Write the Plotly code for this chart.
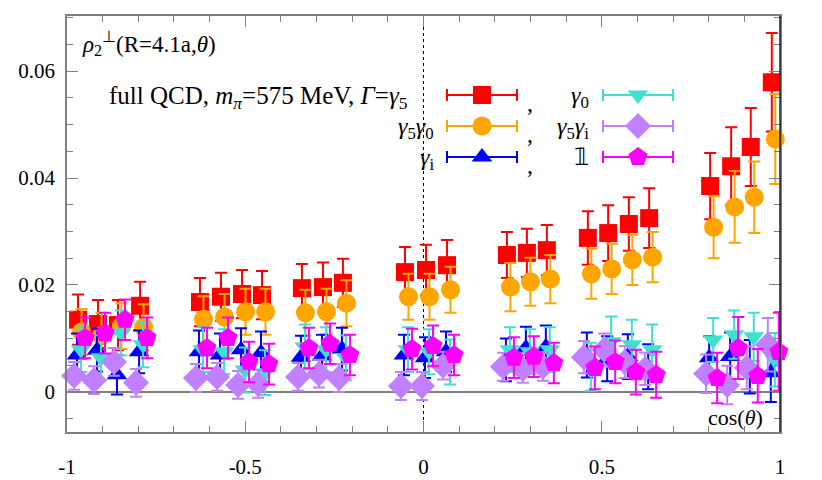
import plotly.graph_objects as go

# cos(theta) positions of the points (gamma_5 series), grouped in 7 clusters
cos_theta = [-0.969, -0.913, -0.857, -0.795,
             -0.627, -0.568, -0.509, -0.453,
             -0.341, -0.282, -0.226,
             -0.052, 0.007, 0.066,
             0.234, 0.290, 0.346,
             0.461, 0.518, 0.576, 0.633,
             0.804, 0.863, 0.918, 0.977]

g5 = [0.0135, 0.0127, 0.0125, 0.0161,
      0.0168, 0.0178, 0.0183, 0.0181,
      0.0194, 0.0196, 0.0204,
      0.0224, 0.0228, 0.0237,
      0.0256, 0.0260, 0.0265,
      0.0288, 0.0297, 0.0314, 0.0325,
      0.0385, 0.0422, 0.0458, 0.0579]
g5_err = [0.0047, 0.0045, 0.0047, 0.0045,
          0.0045, 0.0045, 0.0045, 0.0045,
          0.0045, 0.0046, 0.0045,
          0.0047, 0.0047, 0.0047,
          0.0043, 0.0045, 0.0047,
          0.0050, 0.0052, 0.0050, 0.0056,
          0.0062, 0.0073, 0.0073, 0.0092]

g5g0 = [0.0112, 0.0105, 0.0123, 0.0121,
        0.0136, 0.0140, 0.0150, 0.0150,
        0.0148, 0.0150, 0.0166,
        0.0178, 0.0178, 0.0191,
        0.0196, 0.0206, 0.0211,
        0.0221, 0.0230, 0.0247, 0.0252,
        0.0308, 0.0346, 0.0364, 0.0473]
g5g0_err = [0.0043, 0.0043, 0.0043, 0.0043,
            0.0043, 0.0043, 0.0043, 0.0043,
            0.0043, 0.0043, 0.0043,
            0.0043, 0.0043, 0.0043,
            0.0045, 0.0045, 0.0045,
            0.0047, 0.0047, 0.0047, 0.0047,
            0.0058, 0.0067, 0.0067, 0.0084]

gi = [0.0069, 0.0078, 0.0032, 0.0075,
      0.0075, 0.0069, 0.0079, 0.0073,
      0.0065, 0.0067, 0.0080,
      0.0069, 0.0064, 0.0075,
      0.0060, 0.0082, 0.0084,
      0.0069, 0.0062, 0.0066, 0.0047,
      0.0064, 0.0066, 0.0047, 0.0036]
gi_err = [0.0040, 0.0040, 0.0037, 0.0040,
          0.0040, 0.0040, 0.0040, 0.0040,
          0.0040, 0.0040, 0.0040,
          0.0038, 0.0038, 0.0038,
          0.0040, 0.0040, 0.0040,
          0.0042, 0.0042, 0.0042, 0.0042,
          0.0040, 0.0045, 0.0050, 0.0055]

g0 = [0.0079, 0.0064, 0.0110, 0.0088,
      0.0079, 0.0075, 0.0041, 0.0036,
      0.0084, 0.0079, 0.0064,
      0.0079, 0.0075, 0.0056,
      0.0079, 0.0075, 0.0079,
      0.0047, 0.0094, 0.0088, 0.0079,
      0.0097, 0.0107, 0.0103, 0.0060]
g0_err = [0.0042, 0.0042, 0.0042, 0.0042,
          0.0042, 0.0042, 0.0042, 0.0042,
          0.0042, 0.0042, 0.0042,
          0.0042, 0.0042, 0.0042,
          0.0042, 0.0042, 0.0042,
          0.0045, 0.0047, 0.0047, 0.0047,
          0.0041, 0.0045, 0.0045, 0.0050]

g5gi = [0.0030, 0.0022, 0.0056, 0.0017,
        0.0026, 0.0028, 0.0013, 0.0015,
        0.0028, 0.0034, 0.0026,
        0.0011, 0.0011, 0.0049,
        0.0047, 0.0043, 0.0047,
        0.0065, 0.0079, 0.0056, 0.0043,
        0.0034, 0.0013, 0.0045, 0.0088]
g5gi_err = [0.0026, 0.0026, 0.0026, 0.0026,
            0.0026, 0.0026, 0.0026, 0.0026,
            0.0026, 0.0026, 0.0026,
            0.0026, 0.0026, 0.0026,
            0.0026, 0.0026, 0.0026,
            0.0030, 0.0030, 0.0030, 0.0030,
            0.0036, 0.0036, 0.0040, 0.0050]

one = [0.0101, 0.0110, 0.0135, 0.0101,
       0.0082, 0.0101, 0.0056, 0.0052,
       0.0082, 0.0090, 0.0069,
       0.0080, 0.0086, 0.0069,
       0.0064, 0.0066, 0.0054,
       0.0045, 0.0056, 0.0037, 0.0032,
       0.0026, 0.0082, 0.0030, 0.0075]
one_err = [0.0038, 0.0038, 0.0038, 0.0038,
           0.0038, 0.0038, 0.0038, 0.0038,
           0.0038, 0.0038, 0.0038,
           0.0038, 0.0038, 0.0038,
           0.0038, 0.0038, 0.0038,
           0.0040, 0.0040, 0.0042, 0.0043,
           0.0047, 0.0058, 0.0050, 0.0073]

FONT = "Liberation Serif"
GREY = "#808080"

# plot-area pixel geometry as seen on screen (822x480), page body adds 8px offset
OFF = 8
L, R, T, B = 67, 780, 16, 432
XMIN, XMAX = -1.0, 1.0
YMIN, YMAX = -0.0075, 0.0703


def px_x(px):
    return XMIN + (px - L) / (R - L) * (XMAX - XMIN)


def px_y(py):
    return YMAX - (py - T) / (B - T) * (YMAX - YMIN)


# name, values, errors, colour, symbol, size, small x shift (px), legend column/row
series = [
    ("γ5", g5, g5_err, "#ff0000", "square", 18, 0, 0, 0),
    ("γ5γ0", g5g0, g5g0_err, "#ffa500", "circle", 19, 3.5, 0, 1),
    ("γi", gi, gi_err, "#0000ff", "triangle-up", 18, -1, 0, 2),
    ("γ0", g0, g0_err, "#40e0d0", "triangle-down", 18, 3, 1, 0),
    ("γ5γi", g5gi, g5gi_err, "#c080ff", "diamond", 20, -4, 1, 1),
    ("1", one, one_err, "#ff00ff", "pentagon", 20, 7, 1, 2),
]

leg_cx = [482, 638]   # legend sample centres, px
leg_rows = [95, 126, 157]
leg_half = 35

fig = go.Figure()

for name, ys, es, col, sym, size, shift, c, r in series:
    dx = shift / (R - L) * (XMAX - XMIN)
    fig.add_trace(go.Scatter(
        x=[v + dx for v in cos_theta], y=ys, mode="markers", name=name,
        marker=dict(symbol=sym, size=size, color=col, line=dict(width=0)),
        error_y=dict(type="data", array=es, color=col, thickness=2, width=6),
        showlegend=False, cliponaxis=False,
    ))
    # key sample with horizontal bar
    fig.add_trace(go.Scatter(
        x=[px_x(leg_cx[c])], y=[px_y(leg_rows[r])], mode="markers",
        marker=dict(symbol=sym, size=size, color=col, line=dict(width=0)),
        error_x=dict(type="data", array=[leg_half / (R - L) * 2], color=col,
                     thickness=2, width=6),
        showlegend=False, hoverinfo="skip",
    ))

# dotted line at cos(theta)=0
fig.add_shape(type="line", x0=0, x1=0, y0=YMIN, y1=YMAX, xref="x", yref="y",
              line=dict(color="#000000", width=1, dash="dot"), layer="below")
# right frame line is darker
fig.add_shape(type="line", x0=1, x1=1, y0=0, y1=1, xref="paper", yref="paper",
              line=dict(color="#222222", width=1.5))

texts = [
    ("<i>ρ</i><sub>2</sub><sup>⊥</sup>(R=4.1a,<i>θ</i>)", 80, 43, "left", 23),
    ("full QCD, <i>m</i><sub><i>π</i></sub>=575 MeV, <i>Γ</i>=<i>γ</i><sub>5</sub>",
     258, 97, "center", 25),
    ("<i>γ</i><sub>5</sub><i>γ</i><sub>0</sub>", 436, 128, "right", 24),
    ("<i>γ</i><sub>i</sub>", 436, 159, "right", 24),
    (",", 530, 103, "center", 24),
    (",", 530, 134, "center", 24),
    (",", 530, 165, "center", 24),
    ("<i>γ</i><sub>0</sub>", 591, 97, "right", 24),
    ("<i>γ</i><sub>5</sub><i>γ</i><sub>i</sub>", 591, 128, "right", 24),
    ("𝟙", 591, 157, "right", 24),
    ("cos(<i>θ</i>)", 765, 417, "right", 22),
]
for txt, px, py, al, fs in texts:
    fig.add_annotation(x=px_x(px), y=px_y(py), xref="x", yref="y", text=txt,
                       showarrow=False, xanchor=al, yanchor="middle",
                       font=dict(family=FONT, size=fs, color="black"))

fig.update_xaxes(
    range=[XMIN, XMAX], tickvals=[-1, -0.5, 0, 0.5, 1],
    ticktext=["-1", "-0.5", "0", "0.5", "1"],
    ticks="inside", ticklen=11, tickwidth=1, tickcolor=GREY,
    minor=dict(ticks="inside", dtick=0.1, ticklen=6, tickcolor=GREY),
    showline=True, linecolor=GREY, linewidth=1.5, mirror="allticks",
    showgrid=False, zeroline=False, ticklabelstandoff=15, automargin=False,
    tickfont=dict(family=FONT, size=21, color="black"),
)
fig.update_yaxes(
    range=[YMIN, YMAX], tickvals=[0, 0.02, 0.04, 0.06],
    ticktext=["0", "0.02", "0.04", "0.06"],
    ticks="inside", ticklen=11, tickwidth=1, tickcolor=GREY,
    minor=dict(ticks="inside", dtick=0.005, ticklen=6, tickcolor=GREY),
    showline=True, linecolor=GREY, linewidth=1.5, mirror="allticks",
    showgrid=False, zeroline=True, zerolinecolor=GREY, zerolinewidth=1.5,
    ticklabelstandoff=6, automargin=False,
    tickfont=dict(family=FONT, size=21, color="black"),
)

fig.update_layout(
    width=822, height=480,
    margin=dict(l=L - OFF, r=822 - (R - OFF), t=T - OFF, b=480 - (B - OFF),
                autoexpand=False),
    plot_bgcolor="white", paper_bgcolor="white",
    font=dict(family=FONT, size=21, color="black"),
    showlegend=False,
)

fig.write_html("out.html")
